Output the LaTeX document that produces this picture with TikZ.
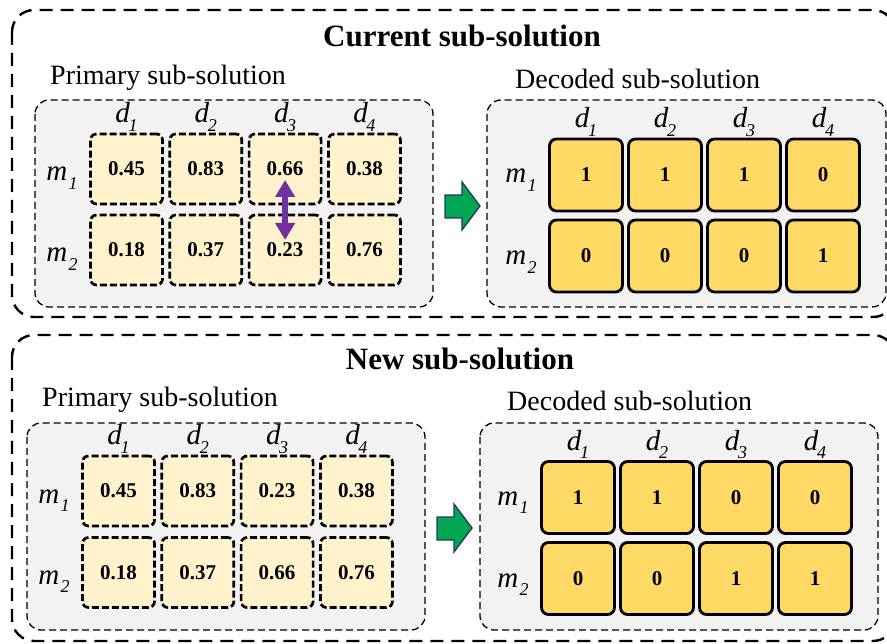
\documentclass[tikz,border=0pt]{standalone}
\usepackage{fontspec}
\setmainfont{Liberation Serif}
\usetikzlibrary{arrows.meta}
\definecolor{cellfill}{HTML}{FFF2CC}
\definecolor{decfill}{HTML}{FFD966}
\definecolor{panelfill}{HTML}{F2F2F2}
\definecolor{arrgreen}{HTML}{00A651}
\definecolor{arrnavy}{HTML}{1F3864}
\definecolor{swapc}{HTML}{7030A0}
\newcommand\dlab[1]{\textit{d}\kern-0.05em\raisebox{-0.28em}{\fontsize{18}{18}\selectfont\textit{#1}}}
\newcommand\mlab[1]{\textit{m}\kern0.05em\raisebox{-0.28em}{\fontsize{18}{18}\selectfont\textit{#1}}}
\begin{document}
\begin{tikzpicture}[x=1pt,y=-1pt,
  outerbox/.style={draw, line width=2.4pt, dash pattern=on 13pt off 8pt, rounded corners=22pt},
  panel/.style={draw, fill=panelfill, line width=1.3pt, dash pattern=on 7pt off 4pt, rounded corners=14pt},
  pcell/.style={draw, fill=cellfill, line width=2.7pt, dash pattern=on 7pt off 3pt, rounded corners=6pt,
    minimum width=72pt, minimum height=70pt, inner sep=0pt, font=\fontsize{21}{21}\selectfont\bfseries},
  dcell/.style={draw, fill=decfill, line width=2.8pt, rounded corners=7pt,
    minimum width=73pt, minimum height=72pt, inner sep=0pt, font=\fontsize{21}{21}\selectfont\bfseries},
  axlab/.style={anchor=base, inner sep=0pt, font=\fontsize{29}{29}\selectfont},
  title/.style={anchor=base, inner sep=0pt, font=\fontsize{31}{31}\selectfont\bfseries},
  sublab/.style={anchor=base west, inner sep=0pt, font=\fontsize{28}{28}\selectfont},
  greenarrow/.style={fill=arrgreen, draw=arrnavy, line width=1.3pt, line join=miter},
  swaparrow/.style={draw=swapc, line width=6pt, {Triangle[width=19pt,length=17pt]}-{Triangle[width=19pt,length=17pt]}}
]
\useasboundingbox (0,0) rectangle (887,644);
% outer boxes
\draw[outerbox] (12,10) rectangle (895,317);
\draw[outerbox] (12,335) rectangle (895,641);
% titles
\node[title] (t1) at (462,47) {Current sub-solution};
\node[title] (t2) at (460,370) {New sub-solution};
% panels
\draw[panel] (35,100) rectangle (433,307);
\draw[panel] (487,100) rectangle (886,307);
\draw[panel] (27,423) rectangle (425,630);
\draw[panel] (480,423) rectangle (878,630);
% panel labels
\node[sublab] (l1) at (50,85) {Primary sub-solution};
\node[sublab] (l2) at (515,89) {Decoded sub-solution};
\node[sublab] (l3) at (42,407) {Primary sub-solution};
\node[sublab] (l4) at (507,411) {Decoded sub-solution};
% top primary cells
\foreach \v [count=\i] in {0.45,0.83,0.66,0.38}
  \node[pcell] (pA1\i) at (47.2+79.3*\i,169) {\v};
\foreach \v [count=\i] in {0.18,0.37,0.23,0.76}
  \node[pcell] (pA2\i) at (47.2+79.3*\i,250) {\v};
\foreach \i in {1,...,4}
  \node[axlab] (pAd\i) at (47.2+79.3*\i,123) {\dlab{\i}};
\node[axlab] (pAm1) at (62,181) {\mlab{1}};
\node[axlab] (pAm2) at (62,262) {\mlab{2}};
% top decoded cells
\foreach \v [count=\i] in {1,1,1,0}
  \node[dcell] (dA1\i) at (507+79*\i,175) {\v};
\foreach \v [count=\i] in {0,0,0,1}
  \node[dcell] (dA2\i) at (507+79*\i,256) {\v};
\foreach \i in {1,...,4}
  \node[axlab] (dAd\i) at (507+79*\i,128) {\dlab{\i}};
\node[axlab] (dAm1) at (521,183) {\mlab{1}};
\node[axlab] (dAm2) at (521,265) {\mlab{2}};
% bottom primary cells
\foreach \v [count=\i] in {0.45,0.83,0.23,0.38}
  \node[pcell] (pB1\i) at (39.2+79.3*\i,491) {\v};
\foreach \v [count=\i] in {0.18,0.37,0.66,0.76}
  \node[pcell] (pB2\i) at (39.2+79.3*\i,572.5) {\v};
\foreach \i in {1,...,4}
  \node[axlab] (pBd\i) at (39.2+79.3*\i,445) {\dlab{\i}};
\node[axlab] (pBm1) at (54,503) {\mlab{1}};
\node[axlab] (pBm2) at (54,584) {\mlab{2}};
% bottom decoded cells
\foreach \v [count=\i] in {1,1,0,0}
  \node[dcell] (dB1\i) at (499+79*\i,497.5) {\v};
\foreach \v [count=\i] in {0,0,1,1}
  \node[dcell] (dB2\i) at (499+79*\i,578.5) {\v};
\foreach \i in {1,...,4}
  \node[axlab] (dBd\i) at (499+79*\i,450) {\dlab{\i}};
\node[axlab] (dBm1) at (513,505) {\mlab{1}};
\node[axlab] (dBm2) at (513,587) {\mlab{2}};
% green arrows
\draw[greenarrow] (445,195) -- (462,195) -- (462,182) -- (480,206) -- (462,230) -- (462,218) -- (445,218) -- cycle;
\draw[greenarrow] (437,517) -- (454,517) -- (454,504) -- (472,528) -- (454,552) -- (454,540) -- (437,540) -- cycle;
% swap arrow
\draw[swaparrow] ([yshift=-11pt]pA13.center) -- ([yshift=10pt]pA23.center);
\end{tikzpicture}
\end{document}
